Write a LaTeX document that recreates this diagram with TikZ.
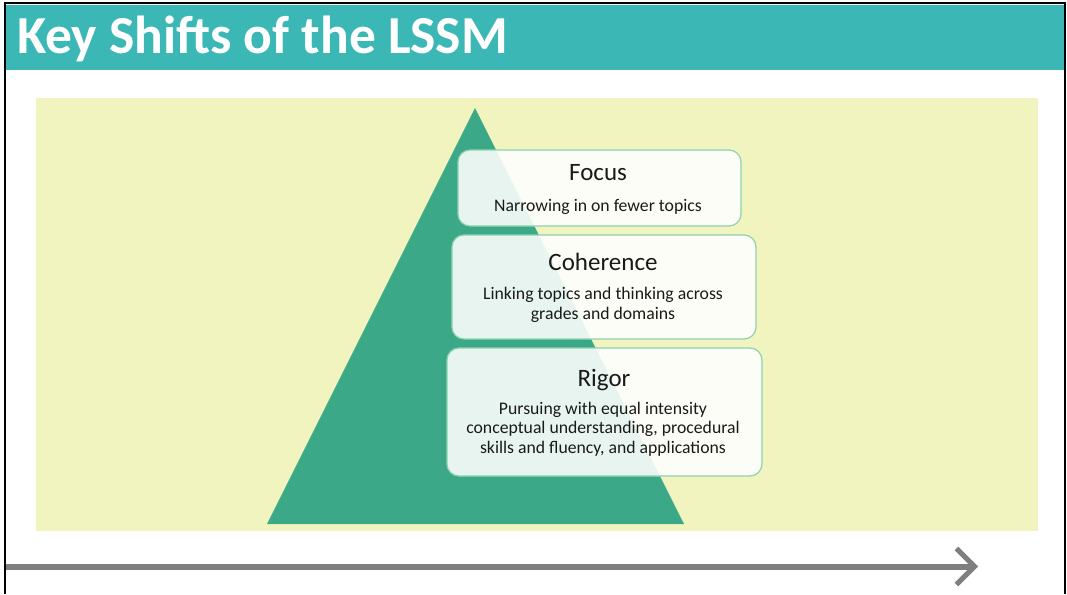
\documentclass[tikz,border=0pt]{standalone}
\usepackage{fontspec}
\setmainfont{Carlito}
\usetikzlibrary{arrows.meta}
\definecolor{bannerteal}{HTML}{3BB7B5}
\definecolor{panelyellow}{HTML}{F2F4BF}
\definecolor{pyramidgreen}{HTML}{3BA987}
\definecolor{boxedge}{HTML}{8ED1B0}
\definecolor{axisgray}{HTML}{7F7F7F}
\definecolor{inktext}{HTML}{1A1A1A}
\tikzset{
  shiftbox/.style={draw=boxedge, line width=1.2pt, fill=white, fill opacity=0.88,
    rounded corners=12pt, inner sep=0pt},
  boxtitle/.style={anchor=base, inner sep=0pt, text=inktext, font=\fontsize{25}{30}\selectfont},
  % multi-line descriptions are anchored at the baseline of their last line
  boxtext/.style={anchor=base, inner sep=0pt, text=inktext, align=center,
    font=\fontsize{17.7}{19.4}\selectfont},
}
\begin{document}
\begin{tikzpicture}[x=1pt,y=-1pt]
\useasboundingbox (0,0) rectangle (1067,594);
\fill[white] (0,0) rectangle (1067,594);
% slide frame and title banner
\fill[bannerteal] (6,5) rectangle (1064,70);
\draw[black, line width=2pt] (5,594) -- (5,3) -- (1065,3) -- (1065,594);
\node[anchor=base west, inner sep=0pt, text=white, font=\fontsize{53.5}{60}\selectfont\bfseries]
  (title) at (17,53) {Key Shifts of the LSSM};
% background panel
\fill[panelyellow] (36,98) rectangle (1038,531);
% pyramid
\fill[pyramidgreen] (475,108) -- (684,524) -- (267,524) -- cycle;
% the three shifts
\node[shiftbox, minimum width=283pt, minimum height=76pt] (focus) at (599.5,188) {};
\node[shiftbox, minimum width=304pt, minimum height=104pt] (coherence) at (604,287) {};
\node[shiftbox, minimum width=315pt, minimum height=128pt] (rigor) at (604.5,412) {};
\node[boxtitle] (focust) at (598,180.5) {Focus};
\node[boxtext] (focusd) at (598,211.5) {Narrowing in on fewer topics};
\node[boxtitle] (coherencet) at (603,270) {Coherence};
\node[boxtext] (coherenced) at (603,319) {Linking topics and thinking across\\grades and domains};
\node[boxtitle] (rigort) at (604,386) {Rigor};
\node[boxtext] (rigord) at (603,453.3) {Pursuing with equal intensity\\conceptual understanding, procedural\\skills and fluency, and applications};
% time axis
\coordinate (axisstart) at (6,566.5);
\coordinate (axisend) at (978,566.5);
\draw[axisgray, line width=6pt, -{Straight Barb[length=18pt, width=36pt, line width=5pt]}] (axisstart) -- (axisend);
\end{tikzpicture}
\end{document}
